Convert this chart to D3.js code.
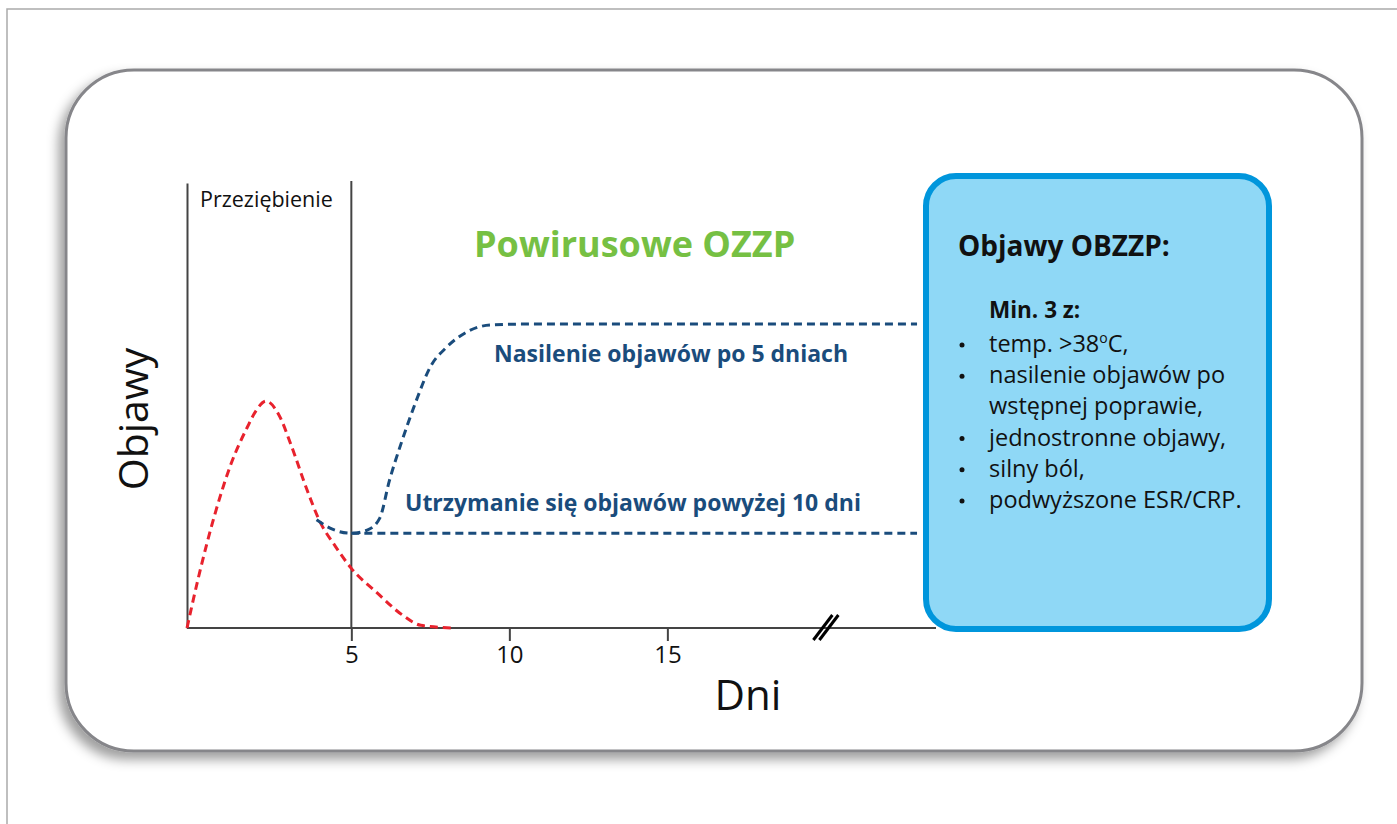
<!DOCTYPE html>
<html>
<head>
<meta charset="utf-8">
<script src="https://cdn.jsdelivr.net/npm/d3@7"></script>
<style>
    body { margin: 0; background: #fff; }
    text { font-family: "Open Sans", sans-serif; }
    .axis path, .axis line { stroke: #444; stroke-width: 2; }
    .axis text { font-size: 24px; fill: #111; font-family: "Open Sans", sans-serif; }
    .cold { fill: none; stroke: #e8222d; stroke-width: 3; stroke-dasharray: 8 5; }
    .post { fill: none; stroke: #1a4c7c; stroke-width: 3; stroke-dasharray: 8 5; }
</style>
</head>
<body>
<div id="chart"></div>
<script>
    // dni (os x) i nasilenie objawów (0-100)
    var coldDays   = [-0.2, 0.15, 0.7, 1.2, 1.7, 2.0, 2.3, 2.7, 3.1, 3.6, 4.0, 4.5, 5.0, 5.8, 6.6, 7.2, 8.2];
    var coldLevel  = [0, 11, 26, 37, 45, 49, 51, 48, 41, 31, 24, 18.3, 13.4, 8.0, 3.0, 0.6, 0];
    var riseDays   = [3.9, 4.4, 5.0, 5.5, 5.9, 6.2, 6.6, 7.05, 7.5, 8.0, 8.6, 9.4, 10.7, 22.9];
    var riseLevel  = [24.3, 22.2, 21.3, 22, 24.7, 33, 42, 51, 58.7, 63, 66.3, 68.1, 68.3, 68.3];
    var flatDays   = [5.0, 22.9];
    var flatLevel  = [21.3, 21.3];
    var tickDays   = [5, 10, 15];
    var breakDay   = 20;
    var boxLines   = ["temp. >38", "nasilenie objawów po", "wstępnej poprawie,", "jednostronne objawy,", "silny ból,", "podwyższone ESR/CRP."];
    var boxBullets = [true, true, false, true, true, true];

    var W = 1397, H = 824;
    var svg = d3.select("#chart").append("svg").attr("width", W).attr("height", H);

    var defs = svg.append("defs");
    var f = defs.append("filter").attr("id", "shadow")
        .attr("x", "-10%").attr("y", "-10%").attr("width", "120%").attr("height", "125%");
    f.append("feDropShadow").attr("dx", -6).attr("dy", 7).attr("stdDeviation", 6)
        .attr("flood-color", "#000").attr("flood-opacity", 0.38);

    // ramka zewnętrzna
    svg.append("path").attr("d", "M7,824 L7,9 L1397,9")
        .attr("fill", "none").attr("stroke", "#aaa").attr("stroke-width", 1.5);

    // panel
    svg.append("rect").attr("x", 66).attr("y", 70).attr("width", 1296).attr("height", 681)
        .attr("rx", 68).attr("ry", 68)
        .attr("fill", "#fff").attr("stroke", "#86868a").attr("stroke-width", 3)
        .attr("filter", "url(#shadow)");

    var x = d3.scaleLinear().domain([-0.2, 23.5]).range([187, 936]);
    var y = d3.scaleLinear().domain([0, 100]).range([628, 183]);

    var line = d3.line()
        .x(function (d) { return x(d[0]); })
        .y(function (d) { return y(d[1]); })
        .curve(d3.curveMonotoneX);

    // linia pionowa przy 5 dniu
    svg.append("line").attr("x1", x(5)).attr("x2", x(5)).attr("y1", 181).attr("y2", y(0))
        .attr("stroke", "#444").attr("stroke-width", 2);

    svg.append("g").attr("class", "axis")
        .call(d3.axisLeft(y).tickValues([]).tickSizeOuter(0))
        .attr("transform", "translate(" + x(-0.2) + ",0)");
    var xAxis = svg.append("g").attr("class", "axis")
        .attr("transform", "translate(0," + y(0) + ")")
        .call(d3.axisBottom(x).tickValues(tickDays).tickSize(13).tickSizeOuter(0).tickPadding(5));
    xAxis.select(".domain").attr("d", "M" + x(-0.2) + ",0H" + x(23.5));

    // znak przerwy osi
    [0, 6].forEach(function (o) {
        svg.append("line")
            .attr("x1", x(breakDay) - 12 + o).attr("y1", y(0) + 12)
            .attr("x2", x(breakDay) + 7 + o).attr("y2", y(0) - 13)
            .attr("stroke", "#000").attr("stroke-width", 3);
    });

    svg.append("path").datum(d3.zip(coldDays, coldLevel)).attr("class", "cold").attr("d", line);
    svg.append("path").datum(d3.zip(riseDays, riseLevel)).attr("class", "post").attr("d", line);
    svg.append("path").datum(d3.zip(flatDays, flatLevel)).attr("class", "post").attr("d", line);

    // opisy
    svg.append("text").attr("x", 200).attr("y", 207).attr("font-size", 21.5).attr("fill", "#111")
        .text("Przeziębienie");
    svg.append("text").attr("x", 474).attr("y", 257).attr("font-size", 36).attr("font-weight", 700)
        .attr("fill", "#76c043").text("Powirusowe OZZP");
    svg.append("text").attr("x", 494).attr("y", 362).attr("font-size", 23).attr("font-weight", 700)
        .attr("fill", "#1a4c7c").text("Nasilenie objawów po 5 dniach");
    svg.append("text").attr("x", 405).attr("y", 511).attr("font-size", 23).attr("font-weight", 700)
        .attr("fill", "#1a4c7c").text("Utrzymanie się objawów powyżej 10 dni");

    svg.append("text").attr("x", 748).attr("y", 710).attr("text-anchor", "middle")
        .attr("font-size", 42).attr("fill", "#111").text("Dni");
    svg.append("text").attr("transform", "translate(148,419) rotate(-90)").attr("text-anchor", "middle")
        .attr("font-size", 41).attr("fill", "#111").text("Objawy");

    // ramka z objawami OBZZP
    svg.append("rect").attr("x", 926).attr("y", 176).attr("width", 343).attr("height", 453)
        .attr("rx", 30).attr("ry", 30)
        .attr("fill", "#8fd8f6").attr("stroke", "#0096dc").attr("stroke-width", 6);
    svg.append("text").attr("x", 958).attr("y", 256).attr("font-size", 28).attr("font-weight", 700)
        .attr("fill", "#111").text("Objawy OBZZP:");
    svg.append("text").attr("x", 989).attr("y", 318).attr("font-size", 22.5).attr("font-weight", 700)
        .attr("fill", "#111").text("Min. 3 z:");

    var items = svg.append("g");
    boxLines.forEach(function (t, i) {
        var ty = 352 + i * 31.2;
        if (boxBullets[i]) {
            items.append("circle").attr("cx", 962).attr("cy", ty - 7).attr("r", 2.5).attr("fill", "#111");
        }
        var tx = items.append("text").attr("x", 989).attr("y", ty).attr("font-size", 23.5).attr("fill", "#111");
        tx.append("tspan").text(t);
        if (i === 0) {
            tx.append("tspan").attr("font-size", 14).attr("dy", -9).text("o");
            tx.append("tspan").attr("dy", 9).text("C,");
        }
    });
</script>
</body>
</html>
